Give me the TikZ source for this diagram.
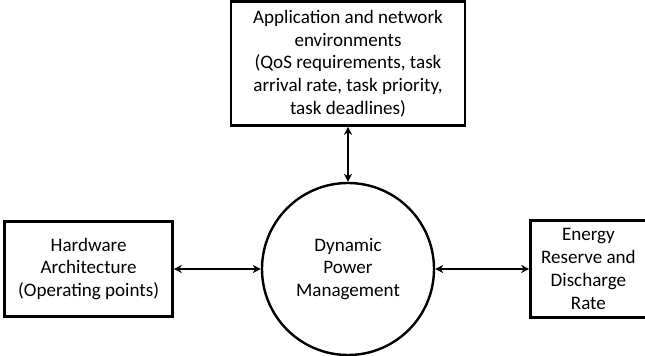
\documentclass[tikz,border=0pt]{standalone}
\usepackage{fontspec}
\setmainfont{Carlito}
\usetikzlibrary{positioning}
\usetikzlibrary{arrows.meta}

\begin{document}
\begin{tikzpicture}[line width=1.8pt, font=\fontsize{14.3}{17.1}\selectfont, main/.style = {draw, circle, minimum size=129pt, align=center}, box/.style = {draw, rectangle, align=center, inner sep=0pt}, link/.style = {{Stealth[length=6pt,width=6pt]}-{Stealth[length=6pt,width=6pt]}}]
            \useasboundingbox (-261pt,-65.25pt) rectangle (222.75pt,201.75pt);
            \node[main] (dpm) {Dynamic\\Power\\Management};
            \node[box, minimum width=175.5pt, minimum height=93pt] (app) [above=41.25pt of dpm] {Application and network\\environments\\(QoS requirements, task\\arrival rate, task priority,\\task deadlines)};
            \node[box, minimum width=126pt, minimum height=71.25pt] (hw) [left=65.25pt of dpm] {Hardware\\Architecture\\(Operating points)};
            \node[box, minimum width=87pt, minimum height=72.75pt] (energy) [right=70.5pt of dpm] {Energy\\Reserve and\\Discharge\\Rate};
            \draw[link] (app) -- (dpm);
            \draw[link] (hw) -- (dpm);
            \draw[link] (dpm) -- (energy);
        \end{tikzpicture}
\end{document}
